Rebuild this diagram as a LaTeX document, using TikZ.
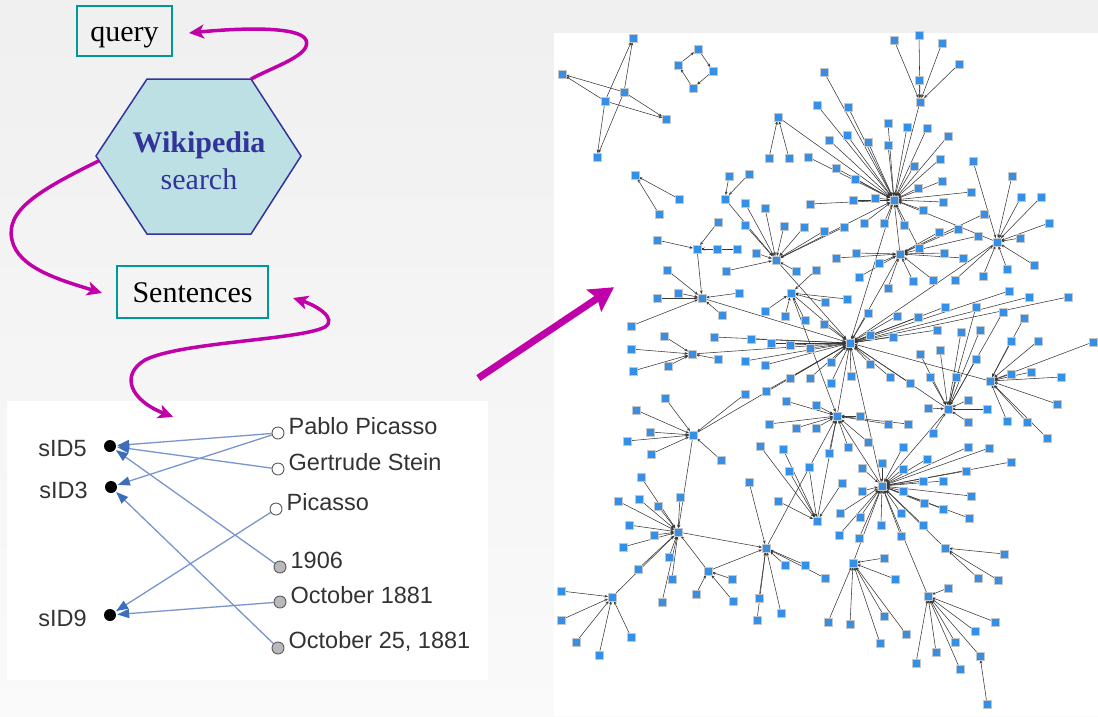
\documentclass[tikz,border=0pt]{standalone}
\usepackage{fontspec}
\setmainfont{Liberation Serif}
\newfontfamily\arialish{Liberation Sans}
\usetikzlibrary{arrows.meta,calc}
\definecolor{magenta2}{RGB}{192,0,168}
\definecolor{teal2}{RGB}{0,153,153}
\definecolor{hexfill}{RGB}{188,224,228}
\definecolor{hexline}{RGB}{51,51,153}
\definecolor{netblue}{RGB}{51,144,230}
\definecolor{bedgecol}{RGB}{120,150,205}
\definecolor{btipcol}{RGB}{60,110,190}
\pgfdeclarelayer{bg}
\pgfdeclarelayer{edges}
\pgfsetlayers{bg,edges,main}
\newcommand\netleaves[3]{%
  \foreach \x/\y [count=\i] in {#3} {%
    \node[nd] (#1\i) at (\x,\y) {};
    \begin{pgfonlayer}{edges}\draw[ned] (#1\i) -- (#2);\end{pgfonlayer}}}

\begin{document}
\begin{tikzpicture}[x=1pt,y=-1pt,
  box/.style={rectangle,draw=teal2,line width=2pt,inner sep=0pt,text height=26pt,text depth=6pt,font=\fontsize{30}{36}\selectfont},
  hexa/.style={draw=hexline,fill=hexfill,line width=1.5pt,line join=miter},
  mag/.style={draw=magenta2,line width=3.5pt,-{Stealth[length=15pt,width=14pt,inset=4pt]}},
  magboth/.style={draw=magenta2,line width=3.5pt,{Stealth[length=15pt,width=14pt,inset=4pt]}-{Stealth[length=15pt,width=14pt,inset=4pt]}},
  bigarrow/.style={draw=magenta2,line width=7pt,-{Stealth[length=24pt,width=26pt,inset=4pt]}},
  panel/.style={rectangle,fill=white,draw=none,inner sep=0pt,anchor=north west},
  sdot/.style={circle,fill=black,minimum size=12pt,inner sep=0pt},
  ent/.style={circle,draw=gray!70!black,fill=white,line width=0.9pt,minimum size=12pt,inner sep=0pt},
  date/.style={ent,fill=gray!55},
  slab/.style={font=\arialish\fontsize{23.5}{28}\selectfont,text=black!80,inner sep=0pt,label distance=17pt,yshift=-3pt},
  elab/.style={font=\arialish\fontsize{23.5}{28}\selectfont,text=black!80,inner sep=0pt,label distance=4pt,yshift=7pt},
  bedge/.style={draw=bedgecol,line width=1.3pt,-{Triangle[length=12pt,width=9pt,color=btipcol]},shorten >=1pt},
  nd/.style={rectangle,fill=netblue,draw=gray!45,line width=0.5pt,minimum size=7.5pt,inner sep=0pt},
  ned/.style={draw=black!78,line width=0.55pt,-{Stealth[length=3.5pt,width=2.8pt]}}]

\useasboundingbox (0,0) rectangle (1098,716);
\begin{pgfonlayer}{bg}
  \fill[top color=gray!12,bottom color=gray!4] (0,0) rectangle (1098,716);
  \node[panel,minimum width=481pt,minimum height=279pt] (bip) at (7,401) {};
  \node[panel,minimum width=544pt,minimum height=683pt] (net) at (554,33) {};
\end{pgfonlayer}

\node[box,minimum width=95pt,minimum height=50pt] (query) at (124.5,31) {query};
\node[box,minimum width=151pt,minimum height=52pt] (sent) at (192.5,292) {Sentences};

\coordinate (hl) at (96,156);
\coordinate (htl) at (147,79);
\coordinate (htr) at (251,79);
\coordinate (hr) at (301,156);
\coordinate (hbr) at (251,234);
\coordinate (hbl) at (147,234);
\draw[hexa] (hl) -- (htl) -- (htr) -- (hr) -- (hbr) -- (hbl) -- cycle;
\node[align=center,text=hexline,font=\fontsize{30}{37}\selectfont] (wiki) at (199,161) {\textbf{Wikipedia}\\search};

\draw[mag] (htr) .. controls (275,66) and (312,55) .. (306,40) .. controls (300,26) and (240,28) .. ([xshift=16pt,yshift=-2pt]query.east);
\draw[mag] ($(hl)!0.06!(hbl)$) .. controls (40,190) and (5,210) .. (12,240) .. controls (18,268) and (60,280) .. ([xshift=-14pt,yshift=-1pt]sent.west);
\draw[magboth] ([xshift=24pt,yshift=-6pt]sent.east) .. controls (315,305) and (338,318) .. (325,327) .. controls (300,340) and (180,342) .. (145,360) .. controls (120,375) and (130,400) .. ([xshift=-74.5pt,yshift=-16pt]bip.north);
\draw[bigarrow] ([xshift=-10pt,yshift=23pt]bip.north east) -- ([xshift=60pt,yshift=87.5pt]net.west);

\node[sdot,label={[slab]left:sID5}] (s5) at (110,446) {};
\node[sdot,label={[slab]left:sID3}] (s3) at (111,487) {};
\node[sdot,label={[slab]left:sID9}] (s9) at (110,615) {};
\node[ent,label={[elab]right:Pablo Picasso}] (pp) at (278,433) {};
\node[ent,label={[elab]right:Gertrude Stein}] (gs) at (278,469) {};
\node[ent,label={[elab]right:Picasso}] (pic) at (276,509) {};
\node[date,label={[elab]right:1906}] (y06) at (280,567) {};
\node[date,label={[elab]right:October 1881}] (oct) at (280,602) {};
\node[date,label={[elab]right:October 25, 1881}] (oct25) at (278,648) {};
\begin{pgfonlayer}{edges}
  \foreach \a/\b in {pp/s5, pp/s3, gs/s5, y06/s5, pic/s9, oct/s9, oct25/s3}
    \draw[bedge] (\a) -- (\b);
\end{pgfonlayer}

\foreach \n/\x/\y in {hA/850/343, hB/837/416, hC/882/486, h1/894/200, h2/900/254,
    h3/997/242, h4/920/102, h5/697/249, h6/776/260, h7/791/293, h8/702/298,
    h9/692/354, h10/990/381, h11/693/435, h12/948/409, h13/817/521, h14/678/532,
    h15/766/548, h16/928/596, h17/612/597, hs1/708/571, hs2/853/563, hs3/945/548,
    hs4/778/117, hs5/725/199, hs6/635/175, hs10/980/656,
    t1/633/38, t2/562/74, t3/624/92, t4/605/101, t5/666/119, t6/597/157,
    d1/698/49, d2/678/65, d3/713/71, d4/693/88}
  \node[nd] (\n) at (\x,\y) {};
\begin{pgfonlayer}{edges}
  \foreach \a/\b in {h1/hA, h4/h1, hs4/h1, hs5/h6, h5/h8, h6/hA, h6/h1, h2/hA, h2/h1,
      h3/h1, h3/hA, h7/hA, h7/hB, h8/hA, h9/hA, hB/hA, hC/hA, hC/hB, h10/hA, h12/hA,
      h12/hC, h11/hA, h11/h14, h14/h15, h15/hB, h13/hB, h16/hC, hs2/hC, hs3/hC,
      hs1/h14, hs1/h15, h17/h14, hs10/h16,
      t4/t1, t3/t1, t3/t2, t4/t2, t4/t5, t3/t5, t3/t6, t4/t6,
      d2/d1, d1/d3, d3/d4, d4/d2}
    \draw[ned] (\a) -- (\b);
\end{pgfonlayer}

\netleaves{la}{h4}{894/40, 919/35, 942/43, 959/64, 919/80}
\netleaves{lb}{h1}{824/72, 817/105, 848/107, 888/123, 829/140, 847/135, 868/142, 888/145,
  907/127, 927/128, 948/136, 940/159, 914/166, 836/168, 855/179, 918/188, 942/181,
  853/200, 875/198, 923/210, 943/202, 971/192, 864/223, 884/223, 904/225, 919/248,
  808/157, 810/204}
\netleaves{lc}{hs4}{769/158, 789/158}
\netleaves{ld}{h6}{745/203, 765/208, 784/226, 804/227, 745/225, 756/253, 726/271, 796/271,
  824/231, 844/227}
\netleaves{le}{hs5}{729/176, 749/174}
\netleaves{lf}{hs6}{679/199, 659/214}
\netleaves{lg}{h5}{657/240, 717/249, 737/249, 718/222}
\netleaves{lh}{h2}{836/258, 856/253, 879/263, 939/232, 958/229, 978/236, 944/253, 963/258,
  913/281, 933/280, 888/288, 859/277, 984/214}
\netleaves{li}{h3}{1012/176, 1021/197, 1041/197, 1049/223, 1020/238, 973/161, 1034/265,
  1007/269, 983/276, 955/280}
\netleaves{lj}{h8}{657/298, 678/293, 739/293, 722/315, 667/270, 631/326}
\netleaves{lk}{h7}{765/311, 785/316, 805/320, 825/302, 816/270, 847/299}
\netleaves{ll}{hA}{824/324, 831/362, 810/348, 790/345, 771/343, 751/339, 868/313, 870/335,
  893/337, 870/364, 851/376, 831/383, 810/378, 790/378, 766/391, 897/316, 918/317,
  945/307, 937/330, 890/377, 910/383, 714/337, 745/361, 765/365, 1009/291, 1029/297,
  1068/297}
\netleaves{lm}{h9}{664/336, 631/349, 633/371, 668/366, 718/359}
\netleaves{ln}{hB}{786/401, 816/405, 860/416, 888/424, 908/424, 769/424, 796/428, 816/428,
  829/453, 848/447, 868/442}
\netleaves{lo}{h12}{928/408, 968/400, 987/409, 968/422, 933/433, 961/332, 980/330, 976/359,
  956/377, 920/354, 940/350, 930/377, 976/307, 1003/312}
\netleaves{lp}{h10}{1011/374, 1031/372, 1061/377, 1038/341, 1093/342, 1057/404, 1007/421,
  1027/422, 1047/438, 1011/341, 1024/318}
\netleaves{lq}{h11}{665/398, 636/410, 650/432, 627/441, 651/454, 721/460, 745/394}
\netleaves{lr}{hC}{862/468, 882/463, 903/469, 923/481, 943/481, 966/471, 862/491, 903/491,
  924/503, 943/509, 971/496, 969/518, 923/525, 901/513, 901/536, 881/525, 860/517,
  859/538, 840/513, 839/535, 903/447, 927/459, 968/447, 989/448, 1011/462}
\netleaves{ls}{h13}{809/467, 789/471, 778/501, 842/483, 783/449, 760/446}
\netleaves{lt}{h14}{641/477, 618/501, 639/499, 658/506, 680/497, 629/525, 654/535, 623/547,
  669/557, 638/569, 672/579, 662/602}
\netleaves{lu}{hs1}{732/579, 696/594, 733/601}
\netleaves{lv}{h15}{759/598, 757/620, 781/613, 749/482, 785/565, 805/565, 825/578}
\netleaves{lw}{hs2}{884/558, 895/579, 880/643, 906/634, 884/616, 828/622, 850/624}
\netleaves{lx}{h16}{916/663, 936/652, 955/642, 975/631, 995/622, 960/669, 948/588}
\netleaves{ly}{hs3}{1004/554, 978/578, 998/580}
\netleaves{lz}{h17}{561/591, 561/620, 576/642, 599/655, 631/637}
\netleaves{lzz}{hs10}{987/704}
\end{tikzpicture}
\end{document}
